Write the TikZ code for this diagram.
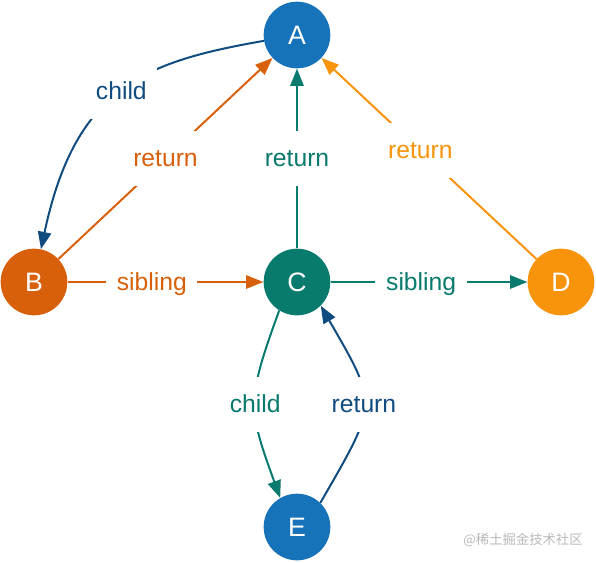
\documentclass[tikz,border=0pt]{standalone}
\usepackage{fontspec}
\setmainfont{Liberation Sans}
\newfontfamily\cjkfont{Noto Sans CJK SC}
\definecolor{fiberBlue}{RGB}{22,114,185}
\definecolor{fiberTeal}{RGB}{9,122,110}
\definecolor{fiberRust}{RGB}{217,96,11}
\definecolor{fiberAmber}{RGB}{248,148,12}
\definecolor{fiberNavy}{RGB}{16,76,128}
\usetikzlibrary{arrows.meta,positioning}

\begin{document}
\begin{tikzpicture}[
  vertex/.style={circle, fill=#1, text=white, minimum size=50pt, inner sep=0pt,
                 font=\fontsize{20}{24}\selectfont},
  link/.style={draw=#1, text=#1, line width=1.5pt,
               -{Triangle[length=13pt,width=10pt]}},
  tag/.style={fill=white, font=\fontsize{18.5}{22}\selectfont,
              inner xsep=8pt, inner ysep=12pt, text height=14.5pt, text depth=2.5pt},
  on grid]
  \useasboundingbox (-222.75pt,-210pt) rectangle (224.25pt,211.5pt);

  \node[vertex=fiberTeal] (C) at (0,0) {C};
  \node[vertex=fiberBlue, above=185.25pt of C] (A) {A};
  \node[vertex=fiberRust, left=197.25pt of C] (B) {B};
  \node[vertex=fiberAmber, right=198pt of C] (D) {D};
  \node[vertex=fiberBlue, below=183.75pt of C] (E) {E};

  \draw[link=fiberNavy] (A) to[out=190, in=78, in looseness=1.4]
    node[tag] {child} (B);
  \draw[link=fiberRust] (B) -- node[tag] {return} (A);
  \draw[link=fiberTeal] (C) -- node[tag] {return} (A);
  \draw[link=fiberAmber] (D) -- node[tag, pos=0.54] {return} (A);
  \draw[link=fiberRust] (B) -- node[tag, pos=0.43] {sibling} (C);
  \draw[link=fiberTeal] (C) -- node[tag, pos=0.46] {sibling} (D);
  \draw[link=fiberTeal] (C.238) to[out=250, in=110, looseness=1.3]
    node[tag] {child} (E.120);
  \draw[link=fiberNavy] (E.46) to[out=60, in=300, looseness=1.5]
    node[tag] {return} (C.-45);

  \node[text=gray!55, font=\cjkfont\fontsize{10}{12}\selectfont] (mark)
    at (169.5pt,-193.5pt) {@稀土掘金技术社区};
\end{tikzpicture}
\end{document}
